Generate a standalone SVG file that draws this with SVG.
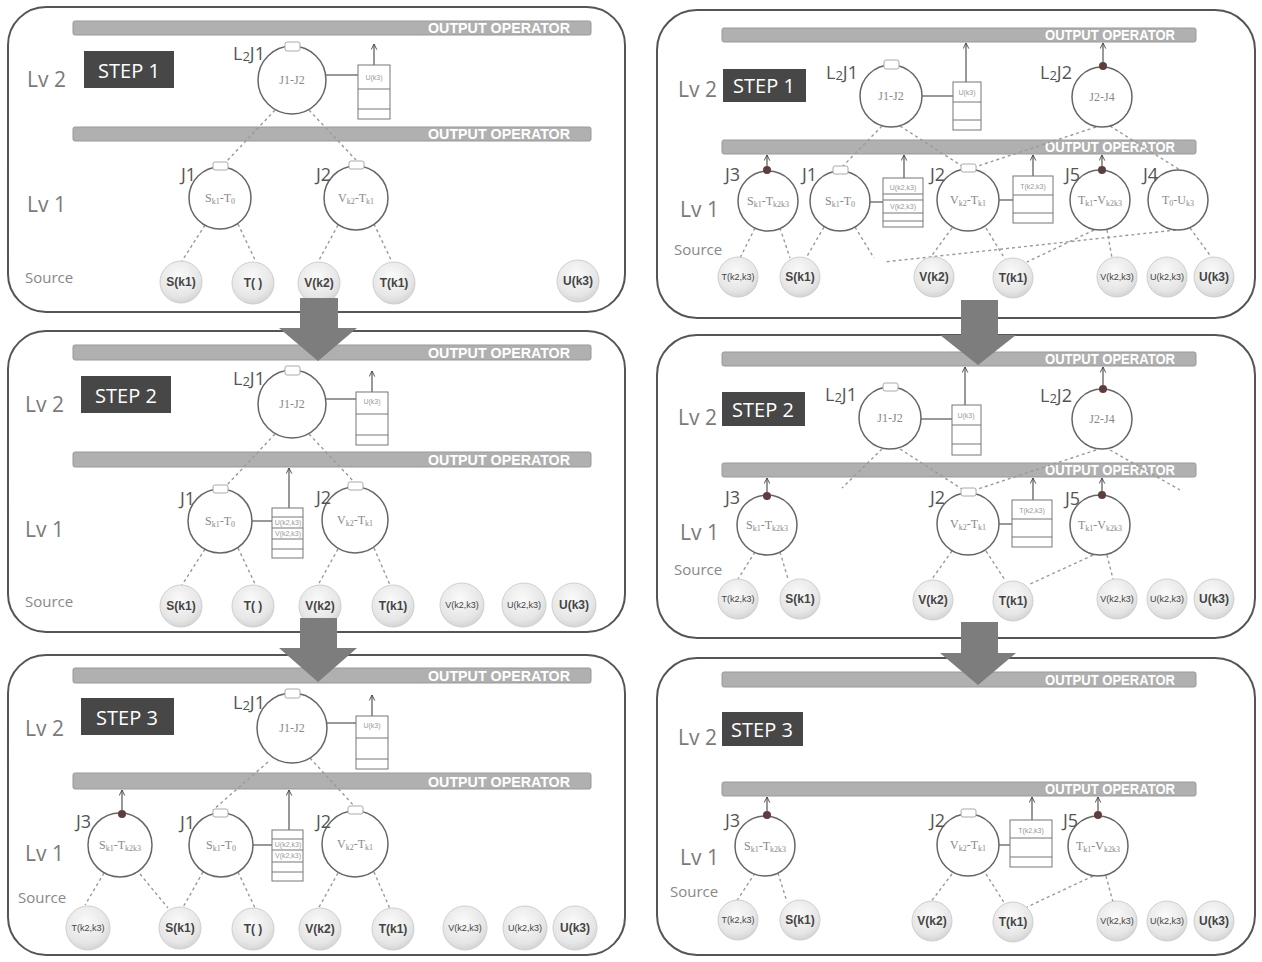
<svg xmlns="http://www.w3.org/2000/svg" width="1262" height="962" viewBox="0 0 1262 962">
<style>
.panel{fill:#fff;stroke:#555;stroke-width:2}
.bar{fill:#b0b0b0;stroke:#999;stroke-width:1}
.bartxt{font-family:"Liberation Sans",sans-serif;font-weight:bold;font-size:14px;fill:#fff}
.lv{font-family:"Open Sans",sans-serif;font-size:21px;fill:#7a7a7a}
.srclab{font-family:"Open Sans",sans-serif;font-size:15px;fill:#888}
.step{fill:#474747}
.steptxt{font-family:"Open Sans",sans-serif;font-size:20px;fill:#fff;text-anchor:middle}
.node{fill:#fff;stroke:#666;stroke-width:1.5}
.nlabel{font-family:"Open Sans",sans-serif;font-size:18px;fill:#555}
.ntxt{font-family:"Liberation Serif",serif;font-size:12px;fill:#888;text-anchor:middle}
.cap{fill:#fff;stroke:#aaa;stroke-width:1}
.dot{fill:#5e3d3d}
.buf{fill:#fff;stroke:#777;stroke-width:1}
.bufline{stroke:#777;stroke-width:1}
.buftxt{font-family:"Liberation Sans",sans-serif;font-size:7px;fill:#999;text-anchor:middle}
.conn{stroke:#9a9a9a;stroke-width:1.4;stroke-dasharray:3 3;fill:none}
.solid{stroke:#555;stroke-width:1.2;fill:none}
.up{stroke:#444;stroke-width:1.1;fill:none;marker-end:url(#ah)}
.srcc{fill:url(#sg);stroke:#cfcfcf;stroke-width:1}
.srct{font-family:"Liberation Sans",sans-serif;font-weight:bold;font-size:12px;fill:#444;text-anchor:middle}
.srcs{font-family:"Liberation Sans",sans-serif;font-size:9px;fill:#444;text-anchor:middle}
.bigarrow{fill:#7d7d7d}
</style>
<defs>
<radialGradient id="sg" cx="0.45" cy="0.35" r="0.7">
<stop offset="0" stop-color="#fafafa"/>
<stop offset="0.7" stop-color="#e6e6e6"/>
<stop offset="1" stop-color="#cfcfcf"/>
</radialGradient>
<marker id="ah" viewBox="0 0 10 10" refX="9" refY="5" markerWidth="7" markerHeight="7" orient="auto" markerUnits="userSpaceOnUse">
<path d="M1,1 L9,5 L1,9" fill="none" stroke="#444" stroke-width="1.3"/>
</marker>
</defs>

<!-- ================= LEFT STEP 1 ================= -->
<g id="left-step1">
<rect class="panel" x="8" y="7" width="617" height="305" rx="38"/>
<rect class="bar" x="73" y="21" width="518" height="14" rx="2"/>
<text class="bartxt" x="428" y="33" textLength="142" lengthAdjust="spacingAndGlyphs">OUTPUT OPERATOR</text>
<rect class="bar" x="73" y="127" width="518" height="14" rx="2"/>
<text class="bartxt" x="428" y="139" textLength="142" lengthAdjust="spacingAndGlyphs">OUTPUT OPERATOR</text>
<text class="lv" x="27" y="87">Lv 2</text>
<text class="lv" x="27" y="212">Lv 1</text>
<text class="srclab" x="25" y="283">Source</text>
<rect class="step" x="84" y="51" width="90" height="37"/>
<text class="steptxt" x="129" y="78">STEP 1</text>
<g id="l1-connectors">
<line class="conn" x1="275" y1="110" x2="226" y2="162"/>
<line class="conn" x1="309" y1="110" x2="356" y2="160"/>
<line class="conn" x1="205" y1="225" x2="182" y2="261"/>
<line class="conn" x1="238" y1="224" x2="256" y2="262"/>
<line class="conn" x1="338" y1="225" x2="318" y2="262"/>
<line class="conn" x1="374" y1="224" x2="392" y2="262"/>
<line class="solid" x1="326" y1="75" x2="358" y2="75"/>
<line class="up" x1="374" y1="65" x2="374" y2="44"/>
</g>
<g id="l1-L2J1">
<circle class="node" cx="292" cy="80" r="34"/>
<rect class="cap" x="285" y="42" width="15" height="9" rx="2"/>
<text class="nlabel" x="233" y="60">L<tspan font-size="13" dy="1">2</tspan><tspan dy="-1">J1</tspan></text>
<text class="ntxt" x="292" y="84">J1-J2</text>
</g>
<g id="l1-buf">
<rect class="buf" x="358" y="65" width="32" height="54"/>
<line class="bufline" x1="358" y1="89" x2="390" y2="89"/>
<line class="bufline" x1="358" y1="109" x2="390" y2="109"/>
<text class="buftxt" x="374" y="80">U(k3)</text>
</g>
<g id="l1-J1">
<circle class="node" cx="220" cy="198" r="31"/>
<rect class="cap" x="213" y="162" width="15" height="8" rx="2"/>
<text class="nlabel" x="181" y="181">J1</text>
<text class="ntxt" x="220" y="202">S<tspan font-size="8" dy="2">k1</tspan><tspan dy="-2">-T</tspan><tspan font-size="8" dy="2">0</tspan></text>
</g>
<g id="l1-J2">
<circle class="node" cx="356" cy="198" r="32"/>
<rect class="cap" x="349" y="161" width="15" height="8" rx="2"/>
<text class="nlabel" x="316" y="181">J2</text>
<text class="ntxt" x="356" y="202">V<tspan font-size="8" dy="2">k2</tspan><tspan dy="-2">-T</tspan><tspan font-size="8" dy="2">k1</tspan></text>
</g>
<g id="l1-sources">
<circle class="srcc" cx="181" cy="282" r="21"/><text class="srct" x="181" y="286">S(k1)</text>
<circle class="srcc" cx="253" cy="283" r="21"/><text class="srct" x="253" y="287">T( )</text>
<circle class="srcc" cx="319" cy="283" r="21"/><text class="srct" x="319" y="287">V(k2)</text>
<circle class="srcc" cx="394" cy="283" r="21"/><text class="srct" x="394" y="287">T(k1)</text>
<circle class="srcc" cx="578" cy="281" r="21"/><text class="srct" x="578" y="285">U(k3)</text>
</g>
</g>

<!-- ================= LEFT STEP 2 ================= -->
<g id="left-step2" transform="translate(0,324)">
<rect class="panel" x="8" y="7" width="617" height="301" rx="38"/>
<rect class="bar" x="73" y="21" width="518" height="15" rx="2"/>
<text class="bartxt" x="428" y="34" textLength="142" lengthAdjust="spacingAndGlyphs">OUTPUT OPERATOR</text>
<rect class="bar" x="73" y="128" width="518" height="15" rx="2"/>
<text class="bartxt" x="428" y="141" textLength="142" lengthAdjust="spacingAndGlyphs">OUTPUT OPERATOR</text>
<text class="lv" x="25" y="88">Lv 2</text>
<text class="lv" x="25" y="213">Lv 1</text>
<text class="srclab" x="25" y="283">Source</text>
<rect class="step" x="81" y="52" width="90" height="37"/>
<text class="steptxt" x="126" y="79">STEP 2</text>
<g id="l2-connectors">
<line class="conn" x1="275" y1="110" x2="226" y2="162"/>
<line class="conn" x1="309" y1="110" x2="356" y2="160"/>
<line class="conn" x1="205" y1="225" x2="182" y2="261"/>
<line class="conn" x1="238" y1="224" x2="256" y2="262"/>
<line class="conn" x1="338" y1="225" x2="318" y2="261"/>
<line class="conn" x1="374" y1="224" x2="390" y2="261"/>
<line class="solid" x1="326" y1="75" x2="357" y2="75"/>
<line class="up" x1="372" y1="68" x2="372" y2="47"/>
<line class="solid" x1="251" y1="197" x2="272" y2="197"/>
<line class="up" x1="289" y1="184" x2="289" y2="144"/>
</g>
<g id="l2-L2J1">
<circle class="node" cx="292" cy="80" r="34"/>
<rect class="cap" x="285" y="42" width="15" height="9" rx="2"/>
<text class="nlabel" x="233" y="61">L<tspan font-size="13" dy="1">2</tspan><tspan dy="-1">J1</tspan></text>
<text class="ntxt" x="292" y="84">J1-J2</text>
</g>
<g id="l2-buf">
<rect class="buf" x="356" y="68" width="32" height="53"/>
<line class="bufline" x1="356" y1="90" x2="388" y2="90"/>
<line class="bufline" x1="356" y1="111" x2="388" y2="111"/>
<text class="buftxt" x="372" y="80">U(k3)</text>
</g>
<g id="l2-J1">
<circle class="node" cx="220" cy="197" r="32"/>
<rect class="cap" x="213" y="161" width="15" height="8" rx="2"/>
<text class="nlabel" x="180" y="181">J1</text>
<text class="ntxt" x="220" y="201">S<tspan font-size="8" dy="2">k1</tspan><tspan dy="-2">-T</tspan><tspan font-size="8" dy="2">0</tspan></text>
</g>
<g id="l2-buf2">
<rect class="buf" x="272" y="184" width="31" height="50"/>
<line class="bufline" x1="272" y1="193" x2="303" y2="193"/>
<line class="bufline" x1="272" y1="204" x2="303" y2="204"/>
<line class="bufline" x1="272" y1="215" x2="303" y2="215"/>
<line class="bufline" x1="272" y1="225" x2="303" y2="225"/>
<text class="buftxt" x="288" y="201" font-size="6">U(k2,k3)</text>
<text class="buftxt" x="288" y="212" font-size="6">V(k2,k3)</text>
</g>
<g id="l2-J2">
<circle class="node" cx="355" cy="196" r="33"/>
<rect class="cap" x="348" y="158" width="15" height="8" rx="2"/>
<text class="nlabel" x="316" y="180">J2</text>
<text class="ntxt" x="355" y="200">V<tspan font-size="8" dy="2">k2</tspan><tspan dy="-2">-T</tspan><tspan font-size="8" dy="2">k1</tspan></text>
</g>
<g id="l2-sources">
<circle class="srcc" cx="181" cy="282" r="21"/><text class="srct" x="181" y="286">S(k1)</text>
<circle class="srcc" cx="253" cy="282" r="21"/><text class="srct" x="253" y="286">T( )</text>
<circle class="srcc" cx="320" cy="282" r="21"/><text class="srct" x="320" y="286">V(k2)</text>
<circle class="srcc" cx="393" cy="282" r="21"/><text class="srct" x="393" y="286">T(k1)</text>
<circle class="srcc" cx="462" cy="281" r="22"/><text class="srcs" x="462" y="284">V(k2,k3)</text>
<circle class="srcc" cx="524" cy="281" r="22"/><text class="srcs" x="524" y="284">U(k2,k3)</text>
<circle class="srcc" cx="574" cy="281" r="22"/><text class="srct" x="574" y="285">U(k3)</text>
</g>
</g>

<!-- ================= LEFT STEP 3 ================= -->
<g id="left-step3" transform="translate(0,648)">
<rect class="panel" x="8" y="7" width="617" height="300" rx="38"/>
<rect class="bar" x="73" y="20" width="518" height="15" rx="2"/>
<text class="bartxt" x="428" y="33" textLength="142" lengthAdjust="spacingAndGlyphs">OUTPUT OPERATOR</text>
<rect class="bar" x="73" y="125" width="518" height="16" rx="2"/>
<text class="bartxt" x="428" y="139" textLength="142" lengthAdjust="spacingAndGlyphs">OUTPUT OPERATOR</text>
<text class="lv" x="25" y="88">Lv 2</text>
<text class="lv" x="25" y="213">Lv 1</text>
<text class="srclab" x="18" y="255">Source</text>
<rect class="step" x="81" y="50" width="93" height="37"/>
<text class="steptxt" x="127" y="77">STEP 3</text>
<g id="l3-connectors">
<line class="conn" x1="268" y1="114" x2="213" y2="162"/>
<line class="conn" x1="310" y1="110" x2="356" y2="160"/>
<line class="conn" x1="104" y1="225" x2="85" y2="257"/>
<line class="conn" x1="140" y1="226" x2="168" y2="260"/>
<line class="conn" x1="203" y1="224" x2="182" y2="261"/>
<line class="conn" x1="238" y1="224" x2="256" y2="262"/>
<line class="conn" x1="338" y1="225" x2="318" y2="261"/>
<line class="conn" x1="374" y1="224" x2="390" y2="261"/>
<line class="solid" x1="326" y1="75" x2="357" y2="75"/>
<line class="up" x1="372" y1="68" x2="372" y2="47"/>
<line class="solid" x1="252" y1="197" x2="272" y2="197"/>
<line class="up" x1="289" y1="182" x2="289" y2="142"/>
<line class="up" x1="122" y1="162" x2="122" y2="142"/>
</g>
<g id="l3-L2J1">
<circle class="node" cx="292" cy="80" r="35"/>
<rect class="cap" x="285" y="41" width="15" height="9" rx="2"/>
<text class="nlabel" x="233" y="61">L<tspan font-size="13" dy="1">2</tspan><tspan dy="-1">J1</tspan></text>
<text class="ntxt" x="292" y="84">J1-J2</text>
</g>
<g id="l3-buf">
<rect class="buf" x="356" y="68" width="32" height="53"/>
<line class="bufline" x1="356" y1="90" x2="388" y2="90"/>
<line class="bufline" x1="356" y1="111" x2="388" y2="111"/>
<text class="buftxt" x="372" y="80">U(k3)</text>
</g>
<g id="l3-J3">
<circle class="node" cx="120" cy="197" r="32"/>
<circle class="dot" cx="122" cy="166" r="4"/>
<text class="nlabel" x="76" y="180">J3</text>
<text class="ntxt" x="120" y="201">S<tspan font-size="8" dy="2">k1</tspan><tspan dy="-2">-T</tspan><tspan font-size="8" dy="2">k2k3</tspan></text>
</g>
<g id="l3-J1">
<circle class="node" cx="221" cy="197" r="32"/>
<rect class="cap" x="213" y="161" width="15" height="8" rx="2"/>
<text class="nlabel" x="180" y="181">J1</text>
<text class="ntxt" x="221" y="201">S<tspan font-size="8" dy="2">k1</tspan><tspan dy="-2">-T</tspan><tspan font-size="8" dy="2">0</tspan></text>
</g>
<g id="l3-buf2">
<rect class="buf" x="272" y="182" width="31" height="51"/>
<line class="bufline" x1="272" y1="191" x2="303" y2="191"/>
<line class="bufline" x1="272" y1="202" x2="303" y2="202"/>
<line class="bufline" x1="272" y1="214" x2="303" y2="214"/>
<line class="bufline" x1="272" y1="224" x2="303" y2="224"/>
<text class="buftxt" x="288" y="199" font-size="6">U(k2,k3)</text>
<text class="buftxt" x="288" y="210" font-size="6">V(k2,k3)</text>
</g>
<g id="l3-J2">
<circle class="node" cx="355" cy="196" r="33"/>
<rect class="cap" x="348" y="158" width="15" height="8" rx="2"/>
<text class="nlabel" x="316" y="180">J2</text>
<text class="ntxt" x="355" y="200">V<tspan font-size="8" dy="2">k2</tspan><tspan dy="-2">-T</tspan><tspan font-size="8" dy="2">k1</tspan></text>
</g>
<g id="l3-sources">
<circle class="srcc" cx="88" cy="280" r="22"/><text class="srcs" x="88" y="283">T(k2,k3)</text>
<circle class="srcc" cx="180" cy="280" r="21"/><text class="srct" x="180" y="284">S(k1)</text>
<circle class="srcc" cx="253" cy="281" r="21"/><text class="srct" x="253" y="285">T( )</text>
<circle class="srcc" cx="320" cy="281" r="21"/><text class="srct" x="320" y="285">V(k2)</text>
<circle class="srcc" cx="393" cy="281" r="21"/><text class="srct" x="393" y="285">T(k1)</text>
<circle class="srcc" cx="465" cy="280" r="22"/><text class="srcs" x="465" y="283">V(k2,k3)</text>
<circle class="srcc" cx="525" cy="280" r="22"/><text class="srcs" x="525" y="283">U(k2,k3)</text>
<circle class="srcc" cx="575" cy="280" r="22"/><text class="srct" x="575" y="284">U(k3)</text>
</g>
</g>

<!-- ================= RIGHT STEP 1 ================= -->
<g id="right-step1">
<rect class="panel" x="657" y="10" width="598" height="308" rx="40"/>
<rect class="bar" x="722" y="28" width="474" height="14" rx="2"/>
<text class="bartxt" x="1045" y="40" textLength="130" lengthAdjust="spacingAndGlyphs">OUTPUT OPERATOR</text>
<rect class="bar" x="722" y="140" width="474" height="14" rx="2"/>
<text class="bartxt" x="1045" y="152" textLength="130" lengthAdjust="spacingAndGlyphs">OUTPUT OPERATOR</text>
<text class="lv" x="678" y="97">Lv 2</text>
<text class="lv" x="680" y="217">Lv 1</text>
<text class="srclab" x="674" y="255">Source</text>
<rect class="step" x="723" y="69" width="83" height="33"/>
<text class="steptxt" x="764" y="93">STEP 1</text>
<g id="r1-connectors">
<line class="conn" x1="882" y1="126" x2="843" y2="166"/>
<line class="conn" x1="900" y1="126" x2="965" y2="168"/>
<line class="conn" x1="1096" y1="127" x2="972" y2="168"/>
<line class="conn" x1="1110" y1="126" x2="1180" y2="170"/>
<line class="conn" x1="755" y1="228" x2="740" y2="258"/>
<line class="conn" x1="780" y1="228" x2="790" y2="258"/>
<line class="conn" x1="824" y1="227" x2="806" y2="258"/>
<line class="conn" x1="855" y1="227" x2="874" y2="258"/>
<line class="conn" x1="1176" y1="230" x2="884" y2="262"/>
<line class="conn" x1="952" y1="228" x2="930" y2="258"/>
<line class="conn" x1="986" y1="228" x2="1005" y2="259"/>
<line class="conn" x1="1094" y1="230" x2="1027" y2="262"/>
<line class="conn" x1="1107" y1="230" x2="1112" y2="258"/>
<line class="conn" x1="1190" y1="228" x2="1212" y2="258"/>
<line class="solid" x1="922" y1="96" x2="953" y2="96"/>
<line class="up" x1="966" y1="82" x2="966" y2="43"/>
<line class="up" x1="1103" y1="62" x2="1103" y2="43"/>
<line class="up" x1="767" y1="166" x2="767" y2="155"/>
<line class="solid" x1="870" y1="202" x2="883" y2="202"/>
<line class="up" x1="904" y1="178" x2="904" y2="155"/>
<line class="solid" x1="999" y1="200" x2="1013" y2="200"/>
<line class="up" x1="1033" y1="176" x2="1033" y2="155"/>
<line class="up" x1="1102" y1="166" x2="1102" y2="155"/>
</g>
<g id="r1-L2J1">
<circle class="node" cx="891" cy="96" r="31"/>
<rect class="cap" x="884" y="60" width="15" height="9" rx="2"/>
<text class="nlabel" x="826" y="79">L<tspan font-size="13" dy="1">2</tspan><tspan dy="-1">J1</tspan></text>
<text class="ntxt" x="891" y="100">J1-J2</text>
</g>
<g id="r1-buf">
<rect class="buf" x="953" y="82" width="28" height="48"/>
<line class="bufline" x1="953" y1="102" x2="981" y2="102"/>
<line class="bufline" x1="953" y1="120" x2="981" y2="120"/>
<text class="buftxt" x="967" y="95">U(k3)</text>
</g>
<g id="r1-L2J2">
<circle class="node" cx="1102" cy="97" r="30"/>
<circle class="dot" cx="1103" cy="66" r="4"/>
<text class="nlabel" x="1040" y="79">L<tspan font-size="13" dy="1">2</tspan><tspan dy="-1">J2</tspan></text>
<text class="ntxt" x="1102" y="101">J2-J4</text>
</g>
<g id="r1-J3">
<circle class="node" cx="768" cy="201" r="30"/>
<circle class="dot" cx="767" cy="170" r="4"/>
<text class="nlabel" x="725" y="181">J3</text>
<text class="ntxt" x="768" y="205">S<tspan font-size="8" dy="2">k1</tspan><tspan dy="-2">-T</tspan><tspan font-size="8" dy="2">k2k3</tspan></text>
</g>
<g id="r1-J1">
<circle class="node" cx="840" cy="201" r="30"/>
<rect class="cap" x="833" y="166" width="15" height="8" rx="2"/>
<text class="nlabel" x="802" y="181">J1</text>
<text class="ntxt" x="840" y="205">S<tspan font-size="8" dy="2">k1</tspan><tspan dy="-2">-T</tspan><tspan font-size="8" dy="2">0</tspan></text>
</g>
<g id="r1-buf2">
<rect class="buf" x="883" y="178" width="40" height="49"/>
<line class="bufline" x1="883" y1="194" x2="923" y2="194"/>
<line class="bufline" x1="883" y1="200" x2="923" y2="200"/>
<line class="bufline" x1="883" y1="213" x2="923" y2="213"/>
<line class="bufline" x1="883" y1="221" x2="923" y2="221"/>
<text class="buftxt" x="903" y="190" font-size="6">U(k2,k3)</text>
<text class="buftxt" x="903" y="209" font-size="6">V(k2,k3)</text>
</g>
<g id="r1-J2">
<circle class="node" cx="968" cy="200" r="31"/>
<rect class="cap" x="961" y="164" width="15" height="8" rx="2"/>
<text class="nlabel" x="930" y="181">J2</text>
<text class="ntxt" x="968" y="204">V<tspan font-size="8" dy="2">k2</tspan><tspan dy="-2">-T</tspan><tspan font-size="8" dy="2">k1</tspan></text>
</g>
<g id="r1-buf3">
<rect class="buf" x="1013" y="176" width="40" height="47"/>
<line class="bufline" x1="1013" y1="195" x2="1053" y2="195"/>
<line class="bufline" x1="1013" y1="213" x2="1053" y2="213"/>
<text class="buftxt" x="1033" y="189" font-size="6">T(k2,k3)</text>
</g>
<g id="r1-J5">
<circle class="node" cx="1100" cy="200" r="30"/>
<circle class="dot" cx="1102" cy="170" r="4"/>
<text class="nlabel" x="1065" y="181">J5</text>
<text class="ntxt" x="1100" y="204">T<tspan font-size="8" dy="2">k1</tspan><tspan dy="-2">-V</tspan><tspan font-size="8" dy="2">k2k3</tspan></text>
</g>
<g id="r1-J4">
<circle class="node" cx="1178" cy="200" r="30"/>
<text class="nlabel" x="1143" y="181">J4</text>
<text class="ntxt" x="1178" y="204">T<tspan font-size="8" dy="2">0</tspan><tspan dy="-2">-U</tspan><tspan font-size="8" dy="2">k3</tspan></text>
</g>
<g id="r1-sources">
<circle class="srcc" cx="738" cy="277" r="20"/><text class="srcs" x="738" y="280" font-size="8">T(k2,k3)</text>
<circle class="srcc" cx="800" cy="277" r="20"/><text class="srct" x="800" y="281">S(k1)</text>
<circle class="srcc" cx="934" cy="277" r="20"/><text class="srct" x="934" y="281">V(k2)</text>
<circle class="srcc" cx="1013" cy="278" r="20"/><text class="srct" x="1013" y="282">T(k1)</text>
<circle class="srcc" cx="1117" cy="277" r="20"/><text class="srcs" x="1117" y="280" font-size="8">V(k2,k3)</text>
<circle class="srcc" cx="1167" cy="277" r="20"/><text class="srcs" x="1167" y="280" font-size="8">U(k2,k3)</text>
<circle class="srcc" cx="1214" cy="277" r="20"/><text class="srct" x="1214" y="281">U(k3)</text>
</g>
</g>

<!-- ================= RIGHT STEP 2 ================= -->
<g id="right-step2" transform="translate(0,323)">
<rect class="panel" x="657" y="12" width="598" height="303" rx="40"/>
<rect class="bar" x="722" y="29" width="474" height="14" rx="2"/>
<text class="bartxt" x="1045" y="41" textLength="130" lengthAdjust="spacingAndGlyphs">OUTPUT OPERATOR</text>
<rect class="bar" x="722" y="140" width="474" height="14" rx="2"/>
<text class="bartxt" x="1045" y="152" textLength="130" lengthAdjust="spacingAndGlyphs">OUTPUT OPERATOR</text>
<text class="lv" x="678" y="102">Lv 2</text>
<text class="lv" x="680" y="217">Lv 1</text>
<text class="srclab" x="674" y="252">Source</text>
<rect class="step" x="722" y="69" width="83" height="34"/>
<text class="steptxt" x="763" y="94">STEP 2</text>
<g id="r2-connectors">
<line class="conn" x1="882" y1="126" x2="842" y2="165"/>
<line class="conn" x1="900" y1="126" x2="965" y2="168"/>
<line class="conn" x1="1096" y1="127" x2="972" y2="168"/>
<line class="conn" x1="1110" y1="127" x2="1180" y2="167"/>
<line class="conn" x1="755" y1="229" x2="738" y2="256"/>
<line class="conn" x1="780" y1="229" x2="788" y2="256"/>
<line class="conn" x1="952" y1="228" x2="932" y2="256"/>
<line class="conn" x1="986" y1="228" x2="1005" y2="257"/>
<line class="conn" x1="1093" y1="232" x2="1028" y2="262"/>
<line class="conn" x1="1107" y1="232" x2="1113" y2="256"/>
<line class="solid" x1="921" y1="96" x2="952" y2="96"/>
<line class="up" x1="965" y1="82" x2="965" y2="44"/>
<line class="up" x1="1103" y1="62" x2="1103" y2="44"/>
<line class="up" x1="767" y1="169" x2="767" y2="155"/>
<line class="solid" x1="999" y1="201" x2="1012" y2="201"/>
<line class="up" x1="1033" y1="177" x2="1033" y2="155"/>
<line class="up" x1="1102" y1="168" x2="1102" y2="155"/>
</g>
<g id="r2-L2J1">
<circle class="node" cx="890" cy="95" r="31"/>
<rect class="cap" x="883" y="60" width="15" height="8" rx="2"/>
<text class="nlabel" x="825" y="78">L<tspan font-size="13" dy="1">2</tspan><tspan dy="-1">J1</tspan></text>
<text class="ntxt" x="890" y="99">J1-J2</text>
</g>
<g id="r2-buf">
<rect class="buf" x="952" y="82" width="29" height="50"/>
<line class="bufline" x1="952" y1="102" x2="981" y2="102"/>
<line class="bufline" x1="952" y1="121" x2="981" y2="121"/>
<text class="buftxt" x="966" y="95">U(k3)</text>
</g>
<g id="r2-L2J2">
<circle class="node" cx="1102" cy="96" r="30"/>
<circle class="dot" cx="1103" cy="66" r="4"/>
<text class="nlabel" x="1040" y="79">L<tspan font-size="13" dy="1">2</tspan><tspan dy="-1">J2</tspan></text>
<text class="ntxt" x="1102" y="100">J2-J4</text>
</g>
<g id="r2-J3">
<circle class="node" cx="767" cy="202" r="30"/>
<circle class="dot" cx="767" cy="173" r="4"/>
<text class="nlabel" x="725" y="181">J3</text>
<text class="ntxt" x="767" y="206">S<tspan font-size="8" dy="2">k1</tspan><tspan dy="-2">-T</tspan><tspan font-size="8" dy="2">k2k3</tspan></text>
</g>
<g id="r2-J2">
<circle class="node" cx="968" cy="201" r="31"/>
<rect class="cap" x="961" y="165" width="15" height="8" rx="2"/>
<text class="nlabel" x="930" y="181">J2</text>
<text class="ntxt" x="968" y="205">V<tspan font-size="8" dy="2">k2</tspan><tspan dy="-2">-T</tspan><tspan font-size="8" dy="2">k1</tspan></text>
</g>
<g id="r2-buf3">
<rect class="buf" x="1012" y="177" width="40" height="47"/>
<line class="bufline" x1="1012" y1="196" x2="1052" y2="196"/>
<line class="bufline" x1="1012" y1="214" x2="1052" y2="214"/>
<text class="buftxt" x="1032" y="190" font-size="6">T(k2,k3)</text>
</g>
<g id="r2-J5">
<circle class="node" cx="1100" cy="202" r="30"/>
<circle class="dot" cx="1102" cy="172" r="4"/>
<text class="nlabel" x="1065" y="182">J5</text>
<text class="ntxt" x="1100" y="206">T<tspan font-size="8" dy="2">k1</tspan><tspan dy="-2">-V</tspan><tspan font-size="8" dy="2">k2k3</tspan></text>
</g>
<g id="r2-sources">
<circle class="srcc" cx="738" cy="276" r="20"/><text class="srcs" x="738" y="279" font-size="8">T(k2,k3)</text>
<circle class="srcc" cx="800" cy="276" r="20"/><text class="srct" x="800" y="280">S(k1)</text>
<circle class="srcc" cx="933" cy="277" r="20"/><text class="srct" x="933" y="281">V(k2)</text>
<circle class="srcc" cx="1013" cy="278" r="20"/><text class="srct" x="1013" y="282">T(k1)</text>
<circle class="srcc" cx="1117" cy="276" r="20"/><text class="srcs" x="1117" y="279" font-size="8">V(k2,k3)</text>
<circle class="srcc" cx="1167" cy="276" r="20"/><text class="srcs" x="1167" y="279" font-size="8">U(k2,k3)</text>
<circle class="srcc" cx="1214" cy="276" r="20"/><text class="srct" x="1214" y="280">U(k3)</text>
</g>
</g>

<!-- ================= RIGHT STEP 3 ================= -->
<g id="right-step3" transform="translate(0,645)">
<rect class="panel" x="657" y="13" width="598" height="297" rx="40"/>
<rect class="bar" x="722" y="27" width="474" height="15" rx="2"/>
<text class="bartxt" x="1045" y="40" textLength="130" lengthAdjust="spacingAndGlyphs">OUTPUT OPERATOR</text>
<rect class="bar" x="722" y="137" width="474" height="14" rx="2"/>
<text class="bartxt" x="1045" y="149" textLength="130" lengthAdjust="spacingAndGlyphs">OUTPUT OPERATOR</text>
<text class="lv" x="678" y="100">Lv 2</text>
<text class="lv" x="680" y="220">Lv 1</text>
<text class="srclab" x="670" y="252">Source</text>
<rect class="step" x="722" y="67" width="81" height="34"/>
<text class="steptxt" x="762" y="92">STEP 3</text>
<g id="r3-connectors">
<line class="conn" x1="755" y1="228" x2="736" y2="257"/>
<line class="conn" x1="778" y1="228" x2="787" y2="257"/>
<line class="conn" x1="952" y1="229" x2="930" y2="258"/>
<line class="conn" x1="986" y1="229" x2="1005" y2="259"/>
<line class="conn" x1="1093" y1="231" x2="1027" y2="262"/>
<line class="conn" x1="1106" y1="231" x2="1113" y2="257"/>
<line class="up" x1="767" y1="166" x2="767" y2="152"/>
<line class="solid" x1="999" y1="200" x2="1010" y2="200"/>
<line class="up" x1="1032" y1="175" x2="1032" y2="152"/>
<line class="up" x1="1098" y1="166" x2="1098" y2="152"/>
</g>
<g id="r3-J3">
<circle class="node" cx="765" cy="201" r="30"/>
<circle class="dot" cx="767" cy="170" r="4"/>
<text class="nlabel" x="725" y="182">J3</text>
<text class="ntxt" x="765" y="205">S<tspan font-size="8" dy="2">k1</tspan><tspan dy="-2">-T</tspan><tspan font-size="8" dy="2">k2k3</tspan></text>
</g>
<g id="r3-J2">
<circle class="node" cx="968" cy="200" r="31"/>
<rect class="cap" x="961" y="164" width="15" height="8" rx="2"/>
<text class="nlabel" x="930" y="182">J2</text>
<text class="ntxt" x="968" y="204">V<tspan font-size="8" dy="2">k2</tspan><tspan dy="-2">-T</tspan><tspan font-size="8" dy="2">k1</tspan></text>
</g>
<g id="r3-buf3">
<rect class="buf" x="1010" y="175" width="42" height="47"/>
<line class="bufline" x1="1010" y1="193" x2="1052" y2="193"/>
<line class="bufline" x1="1010" y1="212" x2="1052" y2="212"/>
<text class="buftxt" x="1031" y="188" font-size="6">T(k2,k3)</text>
</g>
<g id="r3-J5">
<circle class="node" cx="1098" cy="201" r="30"/>
<circle class="dot" cx="1098" cy="170" r="4"/>
<text class="nlabel" x="1063" y="182">J5</text>
<text class="ntxt" x="1098" y="205">T<tspan font-size="8" dy="2">k1</tspan><tspan dy="-2">-V</tspan><tspan font-size="8" dy="2">k2k3</tspan></text>
</g>
<g id="r3-sources">
<circle class="srcc" cx="738" cy="275" r="20"/><text class="srcs" x="738" y="278" font-size="8">T(k2,k3)</text>
<circle class="srcc" cx="800" cy="275" r="20"/><text class="srct" x="800" y="279">S(k1)</text>
<circle class="srcc" cx="932" cy="276" r="20"/><text class="srct" x="932" y="280">V(k2)</text>
<circle class="srcc" cx="1013" cy="277" r="20"/><text class="srct" x="1013" y="281">T(k1)</text>
<circle class="srcc" cx="1117" cy="276" r="20"/><text class="srcs" x="1117" y="279" font-size="8">V(k2,k3)</text>
<circle class="srcc" cx="1167" cy="276" r="20"/><text class="srcs" x="1167" y="279" font-size="8">U(k2,k3)</text>
<circle class="srcc" cx="1214" cy="276" r="20"/><text class="srct" x="1214" y="280">U(k3)</text>
</g>
</g>

<!-- ================= STEP ARROWS ================= -->
<g id="step-arrows">
<path class="bigarrow" d="M300,298 H338 V328 H357 L318,361 L279,328 H300 Z"/>
<path class="bigarrow" d="M300,618 H337 V648 H357 L318,682 L279,648 H300 Z"/>
<path class="bigarrow" d="M961,300 H998 V335 H1016 L978,365 L940,335 H961 Z"/>
<path class="bigarrow" d="M961,622 H998 V653 H1016 L978,685 L940,653 H961 Z"/>
</g>
</svg>
